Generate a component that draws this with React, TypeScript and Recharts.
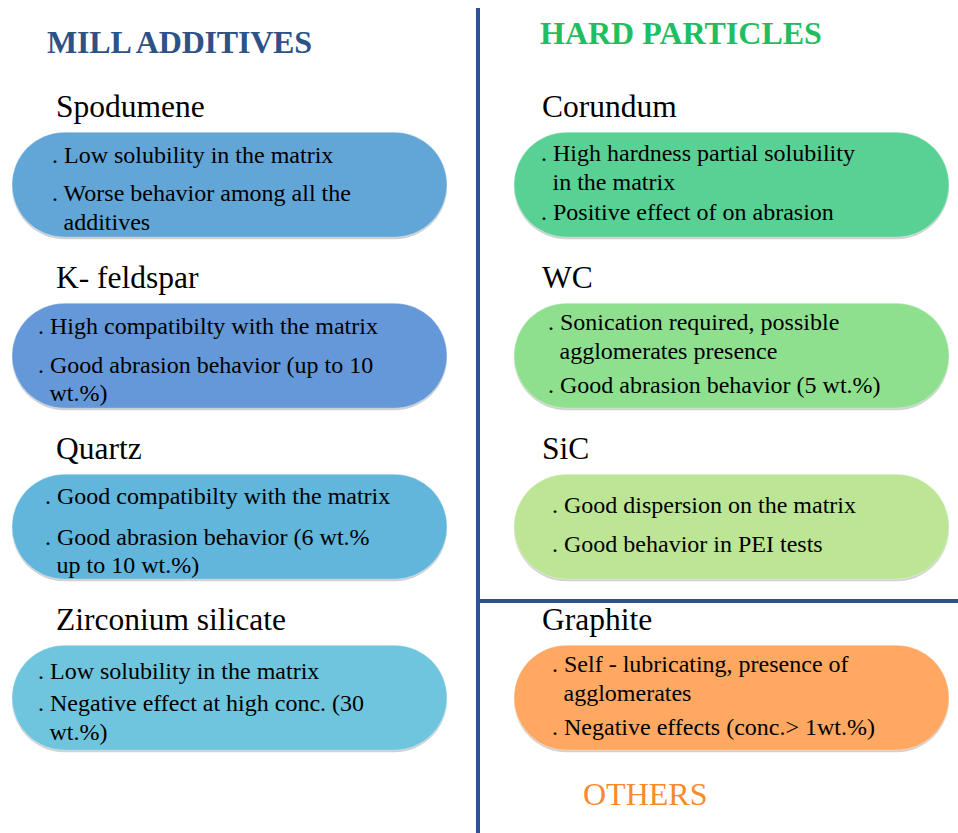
import { ScatterChart, Scatter, XAxis, YAxis, ReferenceLine } from 'recharts';

const W = 958;
const H = 833;
const FONT = '"Liberation Serif", "Times New Roman", Times, serif';

// boxes: name, column (0 = mill additives, 1 = hard particles / others), row
const materials = ['Spodumene', 'K- feldspar', 'Quartz', 'Zirconium silicate', 'Corundum', 'WC', 'SiC', 'Graphite'];
const columns = [0, 0, 0, 0, 1, 1, 1, 1];
const rows = [0, 1, 2, 3, 0, 1, 2, 3];

// bullet points, each one split into its printed lines
const notes: string[][][] = [
  [['Low solubility in the matrix'], ['Worse behavior among all the', 'additives']],
  [['High compatibilty with the matrix'], ['Good abrasion behavior (up to 10', 'wt.%)']],
  [['Good compatibilty with the matrix'], ['Good abrasion behavior (6 wt.%', 'up to 10 wt.%)']],
  [['Low solubility in the matrix'], ['Negative effect at high conc. (30', 'wt.%)']],
  [['High hardness partial solubility', 'in the matrix'], ['Positive effect of on abrasion']],
  [['Sonication required, possible', 'agglomerates presence'], ['Good abrasion behavior (5 wt.%)']],
  [['Good dispersion on the matrix'], ['Good behavior in PEI tests']],
  [['Self - lubricating, presence of', 'agglomerates'], ['Negative effects (conc.> 1wt.%)']],
];

const headings = ['MILL ADDITIVES', 'HARD PARTICLES', 'OTHERS'];

// styling
const fills = ['#62a6d8', '#6498d8', '#62b5db', '#6fc5de', '#5ad194', '#8ee08f', '#bce596', '#ffa861'];
const bulletInsets = [40, 26, 33, 26, 27, 34, 38, 38];
const paraGaps = [9.5, 10.5, 12.5, 3.5, 2, 5.5, 10.5, 5.5];
const textShift = [12, 6];
const titleInsets = [44, 28];
const headingColors = ['#2e5186', '#1fbe62', '#f98a2e'];

// pixel layout of the grid
const COL0 = 229.5;
const COL_STEP = 502;
const ROW0 = 184.7;
const ROW_STEP = 171;
const BOX_W = 435;
const BOX_H = 105;
const LINE_H = 28.5;

const toCol = (px: number) => (px - COL0) / COL_STEP;
const toRow = (px: number) => (px - ROW0) / ROW_STEP;

const data = materials.map((name, i) => ({ name, col: columns[i], row: rows[i], idx: i }));

const Box = (props: any) => {
  const { cx, cy, payload } = props;
  const i = payload.idx;
  const left = cx - BOX_W / 2;
  const top = cy - BOX_H / 2;
  const lines: { text: string; bullet: boolean; y: number }[] = [];
  let y = 0;
  notes[i].forEach((b, bi) => {
    if (bi > 0) y += paraGaps[i];
    b.forEach((t, li) => {
      lines.push({ text: t, bullet: li === 0, y });
      y += LINE_H;
    });
  });
  const span = y - LINE_H;
  const base0 = cy + textShift[payload.col] - span / 2;
  const tx = left + bulletInsets[i];
  return (
    <g>
      <text x={left + titleInsets[payload.col]} y={top - 15} fontSize={31.5} style={{ fontFamily: FONT }} fill="#000">
        {payload.name}
      </text>
      <rect x={left} y={top + 2} width={BOX_W} height={BOX_H} rx={BOX_H / 2} fill="rgba(0,0,0,0.18)" />
      <rect x={left} y={top} width={BOX_W} height={BOX_H} rx={BOX_H / 2} fill={fills[i]} stroke="rgba(255,255,255,0.35)" strokeWidth={1} />
      {lines.map((l, k) => (
        <text key={k} x={l.bullet ? tx : tx + 11.5} y={base0 + l.y} fontSize={24} style={{ fontFamily: FONT }} fill="#000">
          {l.bullet ? `. ${l.text}` : l.text}
        </text>
      ))}
    </g>
  );
};

export default function App() {
  return (
    <div style={{ position: 'absolute', left: 0, top: 0, width: W, height: H, background: '#fff', fontFamily: FONT }}>
      <ScatterChart width={W} height={H} margin={{ top: 0, right: 0, bottom: 0, left: 0 }}>
        <XAxis type="number" dataKey="col" domain={[toCol(0), toCol(W)]} allowDataOverflow hide />
        <YAxis type="number" dataKey="row" domain={[toRow(0), toRow(H)]} allowDataOverflow reversed hide />
        <ReferenceLine
          segment={[{ x: toCol(478), y: toRow(8) }, { x: toCol(478), y: toRow(H) }]}
          stroke="#2f528f"
          strokeWidth={4}
        />
        <ReferenceLine
          segment={[{ x: toCol(478), y: toRow(601) }, { x: toCol(W), y: toRow(601) }]}
          stroke="#2f528f"
          strokeWidth={4}
        />
        <Scatter data={data} shape={Box} isAnimationActive={false} />
      </ScatterChart>
      <svg width={W} height={H} style={{ position: 'absolute', left: 0, top: 0, pointerEvents: 'none' }}>
        <text x={47} y={53} fontSize={32} fontWeight="bold" letterSpacing={-0.2} style={{ fontFamily: FONT }} fill={headingColors[0]}>
          {headings[0]}
        </text>
        <text x={540} y={44} fontSize={32} fontWeight="bold" style={{ fontFamily: FONT }} fill={headingColors[1]}>
          {headings[1]}
        </text>
        <text x={583} y={805} fontSize={32} style={{ fontFamily: FONT }} fill={headingColors[2]}>
          {headings[2]}
        </text>
      </svg>
    </div>
  );
}
